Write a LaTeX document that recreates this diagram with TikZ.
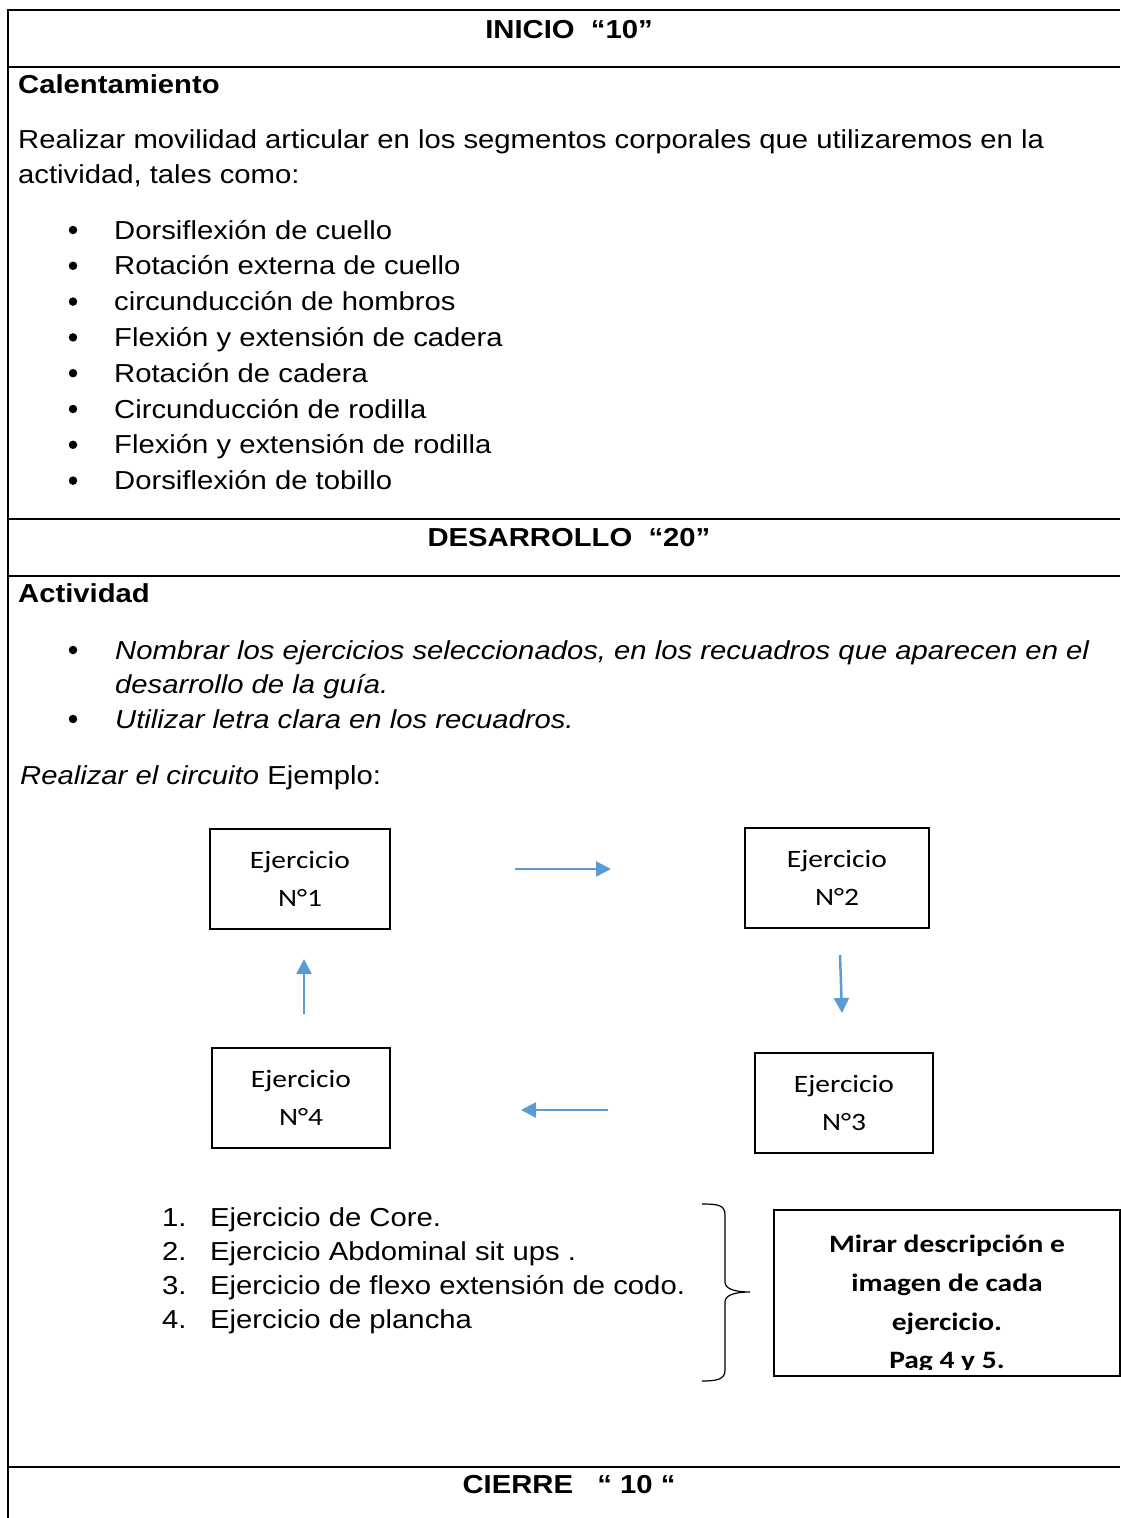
\documentclass[tikz,border=0pt]{standalone}
\usepackage{fontspec}
\setmainfont[FakeStretch=1.125]{Liberation Sans}
\newfontfamily\calfont[FakeStretch=1.18]{Carlito}
\usetikzlibrary{arrows.meta}
\definecolor{arrblue}{HTML}{5B9BD5}
\begin{document}
\begin{tikzpicture}[x=1pt,y=-1pt,
  txt/.style={anchor=base west,inner sep=0pt,font=\fontsize{26}{35.8}\selectfont},
  ctxt/.style={anchor=base,inner sep=0pt,font=\fontsize{26}{35.8}\selectfont\bfseries},
  bul/.style={circle,fill=black,inner sep=0pt,minimum size=8.5pt},
  rule/.style={line width=2pt,black},
  exbox/.style={draw,line width=2pt,minimum width=180pt,minimum height=100pt,inner sep=0pt,align=center,font=\fontsize{25}{38}\selectfont\calfont},
  flow/.style={draw=arrblue,line width=2.5pt,-{Triangle[length=15pt,width=15pt]}}]
\useasboundingbox (0,0) rectangle (1120,1518);
% table frame
\draw[rule] (8,1518) -- (8,10) -- (1120,10);
\draw[rule] (8,67) -- (1120,67);
\draw[rule] (8,519) -- (1120,519);
\draw[rule] (8,576) -- (1120,576);
\draw[rule] (8,1467) -- (1120,1467);
% INICIO
\node[ctxt] (inicio) at (569,38) {INICIO\ \ “10”};
\node[txt,font=\fontsize{26}{35.8}\selectfont\bfseries] (cal) at (18,93) {Calentamiento};
\node[txt] (p1) at (18,148) {Realizar movilidad articular en los segmentos corporales que utilizaremos en la};
\node[txt] (p2) at (18,183) {actividad, tales como:};
\foreach \t [count=\i from 0] in {Dorsiflexión de cuello,Rotación externa de cuello,circunducción de hombros,Flexión y extensión de cadera,Rotación de cadera,Circunducción de rodilla,Flexión y extensión de rodilla,Dorsiflexión de tobillo}{
  \node[bul] (b\i) at (73,230+35.8*\i) {};
  \node[txt] (l\i) at (114,239+35.8*\i) {\t};
}
% DESARROLLO
\node[ctxt] (desa) at (569,546) {DESARROLLO\ \ “20”};
\node[txt,font=\fontsize{26}{35.8}\selectfont\bfseries] (act) at (18,602) {Actividad};
\node[bul] (ba) at (73,650) {};
\node[txt,font=\fontsize{26}{35.8}\selectfont\itshape] (a1) at (115,659) {Nombrar los ejercicios seleccionados, en los recuadros que aparecen en el};
\node[txt,font=\fontsize{26}{35.8}\selectfont\itshape] (a2) at (115,693) {desarrollo de la guía.};
\node[bul] (bb) at (73,719) {};
\node[txt,font=\fontsize{26}{35.8}\selectfont\itshape] (a3) at (115,728) {Utilizar letra clara en los recuadros.};
\node[txt] (ej) at (20,784) {\itshape Realizar el circuito\upshape\ Ejemplo:};
% exercise boxes
\node[exbox] (e1) at (300,879) {Ejercicio\\N°1};
\node[exbox,minimum width=184pt] (e2) at (837,878) {Ejercicio\\N°2};
\node[exbox,minimum width=178pt] (e3) at (844,1103) {Ejercicio\\N°3};
\node[exbox,minimum width=178pt] (e4) at (301,1098) {Ejercicio\\N°4};
\coordinate (a12s) at (515,869); \coordinate (a12e) at (611,869);
\coordinate (a23s) at (840,955); \coordinate (a23e) at (842,1013);
\coordinate (a34s) at (608,1110); \coordinate (a34e) at (521,1110);
\coordinate (a41s) at (304,1014); \coordinate (a41e) at (304,959);
\draw[flow] (a12s) -- (a12e);
\draw[flow] (a23s) -- (a23e);
\draw[flow] (a34s) -- (a34e);
\draw[flow] (a41s) -- (a41e);
% numbered list
\foreach \t [count=\i] in {Ejercicio de Core.,Ejercicio Abdominal sit ups .,Ejercicio de flexo extensión de codo.,Ejercicio de plancha}{
  \node[txt] (n\i) at (162,1226+34*\i-34) {\i.};
  \node[txt] (m\i) at (210,1226+34*\i-34) {\t};
}
% brace
\draw[line width=1.2pt] (702,1204) .. controls (718,1204) and (725,1205) .. (725,1215)
  -- (725,1282) .. controls (725,1289) and (735,1292) .. (750,1292)
  .. controls (735,1292) and (725,1295) .. (725,1302)
  -- (725,1370) .. controls (725,1379) and (718,1381) .. (702,1381);
% note box
\node[draw,line width=2pt,minimum width=346pt,minimum height=166pt,inner sep=0pt] (note) at (947,1293) {};
\begin{scope}
\clip (776,1212) rectangle (1118,1369);
\node[anchor=north,inner sep=0pt,align=center,font=\fontsize{25}{38.7}\selectfont\calfont\bfseries] (notetxt) at (947,1235) {Mirar descripción e\\imagen de cada\\ejercicio.\\Pag 4 y 5.};
\end{scope}
% CIERRE
\node[ctxt] (cierre) at (569,1493) {CIERRE\ \ \ “ 10 “};
\end{tikzpicture}
\end{document}
